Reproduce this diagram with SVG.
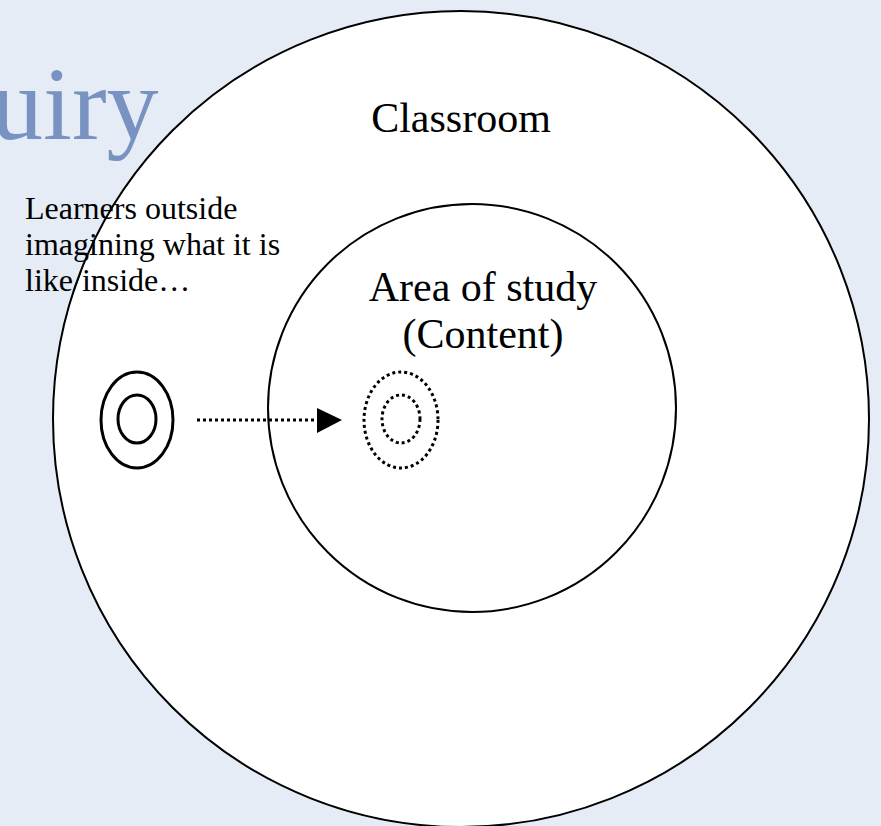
<svg xmlns="http://www.w3.org/2000/svg" width="881" height="826" viewBox="0 0 881 826">
<defs>
<style>
.t{font-family:"Liberation Serif","Times New Roman",serif;fill:#000}
.solid{fill:none;stroke:#000;stroke-width:3}
.dot{fill:none;stroke:#000;stroke-width:3;stroke-dasharray:3 3}
</style>
</defs>
<rect x="0" y="0" width="881" height="826" fill="#e5ecf5"/>
<text x="-9" y="139" style="font-family:'Liberation Serif','Times New Roman',serif;font-size:104px;fill:#7892c2">uiry</text>
<g id="classroom">
<circle cx="461" cy="419" r="408" fill="#fff" stroke="#000" stroke-width="2"/>
<text class="t" x="461" y="132" font-size="42" text-anchor="middle">Classroom</text>
</g>
<g id="area">
<circle cx="472" cy="408" r="204" fill="#fff" stroke="#000" stroke-width="2"/>
<text class="t" x="483" y="301" font-size="42" text-anchor="middle">Area of study</text>
<text class="t" x="483" y="348" font-size="42" text-anchor="middle">(Content)</text>
</g>
<g id="learners-label">
<text class="t" x="25" y="219" font-size="32">Learners outside</text>
<text class="t" x="25" y="255" font-size="32">imagining what it is</text>
<text class="t" x="25" y="291" font-size="32">like/inside…</text>
</g>
<g id="learners">
<ellipse class="solid" cx="137" cy="420" rx="36" ry="48"/>
<ellipse class="solid" cx="137" cy="419" rx="19" ry="24"/>
</g>
<g id="imagined">
<ellipse class="dot" cx="401" cy="420" rx="37" ry="48"/>
<ellipse class="dot" cx="401" cy="419" rx="19" ry="24"/>
</g>
<g id="connectors">
<line x1="197" y1="420" x2="317" y2="420" stroke="#000" stroke-width="3" stroke-dasharray="3 3"/>
<polygon points="317,408 342,420 317,433" fill="#000"/>
</g>
</svg>
